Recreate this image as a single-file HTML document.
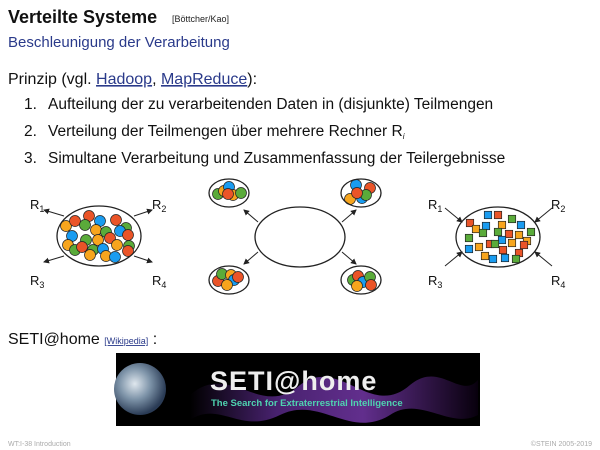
<!DOCTYPE html>
<html><head><meta charset="utf-8"><style>
html,body{margin:0;padding:0;background:#fff;}
svg{display:block;font-family:"Liberation Sans",sans-serif;}
</style></head><body>
<svg width="600" height="450" viewBox="0 0 600 450">
<defs>
<marker id="ah" markerWidth="6" markerHeight="6" refX="5" refY="3" orient="auto"><path d="M0,0 L6,3 L0,6 z" fill="#222"/></marker>
<radialGradient id="earth" cx="0.4" cy="0.4" r="0.6"><stop offset="0" stop-color="#dfe7ee"/><stop offset="0.5" stop-color="#7d93a8"/><stop offset="1" stop-color="#2a3b55"/></radialGradient>
<linearGradient id="wave" x1="0" x2="1"><stop offset="0" stop-color="#000"/><stop offset="0.3" stop-color="#5a2a8a"/><stop offset="0.6" stop-color="#7a3ab0"/><stop offset="1" stop-color="#0a0010"/></linearGradient>
</defs>
<text x="8" y="23" font-size="18" font-weight="bold" fill="#111">Verteilte Systeme</text>
<text x="172" y="22" font-size="9" fill="#222">[Böttcher/Kao]</text>
<text x="8" y="47" font-size="15" fill="#2a3a8a">Beschleunigung der Verarbeitung</text>
<text x="8" y="84" font-size="16" fill="#111">Prinzip (vgl. <tspan fill="#2a3a8a" text-decoration="underline">Hadoop</tspan>, <tspan fill="#2a3a8a" text-decoration="underline">MapReduce</tspan>):</text>
<g font-size="15.5" fill="#111">
<text x="24" y="109">1.  <tspan x="48">Aufteilung der zu verarbeitenden Daten in (disjunkte) Teilmengen</tspan></text>
<text x="24" y="136">2.  <tspan x="48">Verteilung der Teilmengen über mehrere Rechner R</tspan><tspan font-size="8" dy="3" font-style="italic">i</tspan></text>
<text x="24" y="163">3.  <tspan x="48">Simultane Verarbeitung und Zusammenfassung der Teilergebnisse</tspan></text>
</g>
<g id="diagram"></g>
<text x="8" y="344" font-size="16" fill="#111">SETI@home <tspan font-size="9" fill="#2a3a8a" text-decoration="underline">[Wikipedia]</tspan> :</text>
<g>
<rect x="116" y="353" width="364" height="73" fill="#000"/>
<path d="M190,395 C230,360 260,420 300,385 C340,355 370,420 410,385 C440,360 460,400 478,380 L478,415 C450,430 420,395 390,415 C350,440 320,395 280,415 C240,435 220,400 190,420 Z" fill="url(#wave)" opacity="0.8"/>
<circle cx="140" cy="389" r="26" fill="url(#earth)"/>
<text x="210" y="390" font-size="27" font-weight="bold" fill="#eee" letter-spacing="1">SETI@home</text>
<text x="211" y="406" font-size="9.5" font-weight="bold" fill="#4fd3b0">The Search for Extraterrestrial Intelligence</text>
</g>
<text x="8" y="446" font-size="7" fill="#aaa">WT:I-38    Introduction</text>
<text x="592" y="446" font-size="7" fill="#aaa" text-anchor="end">©STEIN 2005-2019</text>
</svg>
<script>
const NS="http://www.w3.org/2000/svg";
const g=document.getElementById('diagram');
const cols={o:"#f7a51d",r:"#ea5428",g:"#5aab3a",b:"#1a9cf0"};
function el(t,a){const e=document.createElementNS(NS,t);for(const k in a)e.setAttribute(k,a[k]);g.appendChild(e);return e;}
function ell(cx,cy,rx,ry){const e=el('ellipse',{cx,cy,rx,ry,fill:'none',stroke:'#222','stroke-width':1.3});

}
function line(x1,y1,x2,y2){const e=el('line',{x1,y1,x2,y2,stroke:'#222','stroke-width':1,'marker-end':'url(#ah)'});

}
function lab(x,y,n){const e=el('text',{x,y,'font-size':13,fill:'#111'});e.innerHTML='R<tspan font-size="9" dy="3">'+n+'</tspan>';

}
function circ(cx,cy,c){const e=el('circle',{cx,cy,r:5.5,fill:cols[c],stroke:'#222','stroke-width':0.7});

}
function sq(cx,cy,c){const e=el('rect',{x:cx-3.7,y:cy-3.7,width:7.4,height:7.4,fill:cols[c],stroke:'#222','stroke-width':0.7});

}
// left
const L=[[66,226,'o'],[75,221,'r'],[89,216,'r'],[100,221,'b'],[116,220,'r'],[126,228,'g'],[85,225,'g'],[96,230,'o'],[106,232,'g'],[120,231,'b'],[128,235,'r'],[72,236,'b'],[86,240,'g'],[98,240,'o'],[110,238,'r'],[117,245,'o'],[129,246,'g'],[68,245,'o'],[75,250,'g'],[82,247,'r'],[93,250,'g'],[103,249,'b'],[90,255,'o'],[106,256,'o'],[115,257,'b'],[128,251,'r']];
L.forEach(p=>circ(...p));
ell(99,236,42,30);
line(64,216,44,210);line(134,216,152,210);line(64,256,44,262);line(134,256,152,262);
lab(30,209,1);lab(152,209,2);lab(30,285,3);lab(152,285,4);
// middle
ell(300,237,45,30);
line(258,222,244,210);line(342,222,356,210);line(258,252,244,264);line(342,252,356,264);
[[218,194,'g'],[224,191,'o'],[229,187,'b'],[233,195,'o'],[228,194,'r'],[241,193,'g']].forEach(p=>circ(...p));ell(229,193,20,14);
[[356,185,'b'],[370,188,'r'],[350,199,'o'],[362,198,'b'],[366,195,'g'],[357,193,'r']].forEach(p=>circ(...p));ell(361,193,20,14);
[[218,281,'r'],[222,274,'g'],[231,275,'o'],[234,280,'b'],[238,277,'r'],[227,285,'o']].forEach(p=>circ(...p));ell(229,280,20,14);
[[353,280,'g'],[358,276,'r'],[363,282,'b'],[370,277,'g'],[357,286,'o'],[371,285,'r']].forEach(p=>circ(...p));ell(361,280,20,14);
// right
const R=[[488,215,'b'],[498,215,'r'],[512,219,'g'],[521,225,'b'],[470,223,'r'],[476,229,'o'],[486,226,'b'],[502,225,'o'],[483,233,'g'],[498,232,'g'],[509,234,'r'],[531,232,'g'],[519,235,'o'],[469,238,'g'],[502,240,'b'],[490,244,'r'],[495,244,'g'],[512,243,'o'],[527,241,'o'],[524,245,'r'],[469,249,'b'],[479,247,'o'],[503,250,'r'],[519,253,'r'],[485,256,'o'],[493,259,'b'],[505,258,'b'],[516,259,'g']];
R.forEach(p=>sq(...p));
ell(498,237,42,30);
line(445,208,462,222);line(552,208,535,222);line(445,266,462,252);line(552,266,535,252);
lab(428,209,1);lab(551,209,2);lab(428,285,3);lab(551,285,4);
</script>
</body></html>
